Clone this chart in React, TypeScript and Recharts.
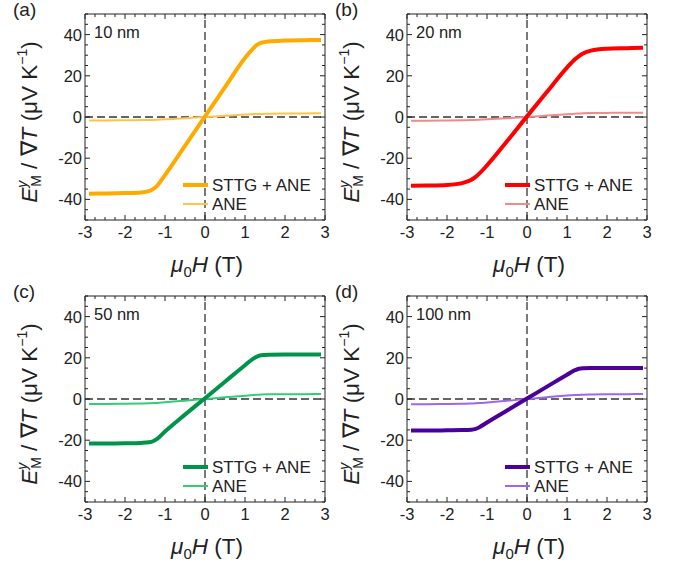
import { LineChart, Line, XAxis, YAxis, ReferenceLine } from "recharts";

// field values (T) shared by every curve
const fieldT = [-2.9, -2.5, -2, -1.6, -1.4, -1.3, -1.2, -1, -0.5, 0, 0.5, 1, 1.2, 1.3, 1.4, 1.6, 2, 2.5, 2.9];

const sttg10 = [-37.2, -37.1, -36.9, -36.6, -36.0, -35.0, -33.4, -28.2, -14.0, 0.3, 14.5, 28.7, 33.2, 35.0, 36.0, 36.7, 37.1, 37.3, 37.4];
const ane10 = [-1.7, -1.7, -1.6, -1.5, -1.45, -1.4, -1.3, -1.1, -0.6, 0, 0.6, 1.2, 1.4, 1.45, 1.5, 1.6, 1.7, 1.75, 1.8];

const sttg20 = [-33.4, -33.3, -33.0, -32.0, -30.6, -29.3, -27.6, -23.5, -11.8, 0.3, 12.2, 24.0, 28.0, 29.6, 30.8, 32.2, 33.1, 33.4, 33.6];
const ane20 = [-1.8, -1.8, -1.7, -1.6, -1.5, -1.45, -1.35, -1.15, -0.6, 0, 0.7, 1.35, 1.6, 1.7, 1.8, 1.9, 2.0, 2.1, 2.1];

const sttg50 = [-21.6, -21.6, -21.5, -21.3, -21.0, -20.5, -19.4, -15.8, -7.6, 0.4, 8.4, 16.4, 19.5, 20.6, 21.2, 21.5, 21.6, 21.6, 21.6];
const ane50 = [-2.4, -2.4, -2.3, -2.2, -2.1, -2.0, -1.9, -1.6, -0.8, 0, 0.8, 1.6, 1.95, 2.05, 2.15, 2.25, 2.3, 2.35, 2.4];

const sttg100 = [-15.3, -15.3, -15.2, -15.1, -14.9, -14.6, -13.8, -11.4, -5.6, 0.2, 6.0, 11.8, 14.0, 14.7, 14.9, 15.0, 15.0, 15.0, 15.0];
const ane100 = [-2.5, -2.5, -2.4, -2.3, -2.2, -2.1, -2.0, -1.7, -0.85, 0, 0.85, 1.65, 1.9, 2.0, 2.1, 2.2, 2.3, 2.35, 2.4];

const xTicks = [-3, -2.75, -2.5, -2.25, -2, -1.75, -1.5, -1.25, -1, -0.75, -0.5, -0.25, 0, 0.25, 0.5, 0.75, 1, 1.25, 1.5, 1.75, 2, 2.25, 2.5, 2.75, 3];
const yTicks = [-50, -45, -40, -35, -30, -25, -20, -15, -10, -5, 0, 5, 10, 15, 20, 25, 30, 35, 40, 45, 50];

const FONT = "'Liberation Sans', Arial, sans-serif";
const INK = "#222";

const W = 330;
const H = 285;
const L = 85; // plot left inside panel
const T = 14; // plot top inside panel
const PW = 240;
const PH = 206;

const isMajorX = (v: number) => Number.isInteger(v);
const isMajorY = (v: number) => v % 20 === 0 && Math.abs(v) < 50;

function tickX(side: "bottom" | "top") {
  return (p: any) => {
    const v = p.payload.value;
    const len = isMajorX(v) ? 5 : 3;
    const dir = side === "bottom" ? -1 : 1;
    return (
      <g>
        <line x1={p.x} x2={p.x} y1={p.y} y2={p.y + dir * len} stroke={INK} strokeWidth={1} />
        {side === "bottom" && isMajorX(v) && (
          <text x={p.x} y={p.y + 18} textAnchor="middle" fontSize={16.5} fontFamily={FONT} fill={INK}>
            {v}
          </text>
        )}
      </g>
    );
  };
}

function tickY(side: "left" | "right") {
  return (p: any) => {
    const v = p.payload.value;
    const len = isMajorY(v) ? 5 : 3;
    const dir = side === "left" ? 1 : -1;
    return (
      <g>
        <line x1={p.x} x2={p.x + dir * len} y1={p.y} y2={p.y} stroke={INK} strokeWidth={1} />
        {side === "left" && isMajorY(v) && (
          <text x={p.x - 3} y={p.y + 6} textAnchor="end" fontSize={16.5} fontFamily={FONT} fill={INK}>
            {v}
          </text>
        )}
      </g>
    );
  };
}

type PanelProps = {
  left: number;
  top: number;
  letter: string;
  thickness: string;
  sttg: number[];
  ane: number[];
  thick: string;
  thin: string;
};

function Panel({ left, top, letter, thickness, sttg, ane, thick, thin }: PanelProps) {
  const rows = fieldT.map((h, i) => ({ h, sttg: sttg[i], ane: ane[i] }));
  return (
    <div style={{ position: "absolute", left, top, width: W, height: H }}>
      <LineChart
        width={W}
        height={H}
        data={rows}
        margin={{ top: T - 1, left: L - 1, right: W - L - PW - 1, bottom: H - T - PH - 1 }}
      >
        <XAxis
          dataKey="h"
          type="number"
          domain={[-3, 3]}
          allowDataOverflow
          ticks={xTicks}
          interval={0}
          height={1}
          tickLine={false}
          tickSize={0}
          tickMargin={0}
          axisLine={{ stroke: INK }}
          tick={tickX("bottom")}
        />
        <XAxis
          xAxisId="top"
          orientation="top"
          dataKey="h"
          type="number"
          domain={[-3, 3]}
          allowDataOverflow
          ticks={xTicks}
          interval={0}
          height={1}
          tickLine={false}
          tickSize={0}
          tickMargin={0}
          axisLine={{ stroke: INK }}
          tick={tickX("top")}
        />
        <YAxis
          type="number"
          domain={[-50, 50]}
          allowDataOverflow
          ticks={yTicks}
          interval={0}
          width={1}
          tickLine={false}
          tickSize={0}
          tickMargin={0}
          axisLine={{ stroke: INK }}
          tick={tickY("left")}
        />
        <YAxis
          yAxisId="right"
          orientation="right"
          type="number"
          domain={[-50, 50]}
          allowDataOverflow
          ticks={yTicks}
          interval={0}
          width={1}
          tickLine={false}
          tickSize={0}
          tickMargin={0}
          axisLine={{ stroke: INK }}
          tick={tickY("right")}
        />
        <ReferenceLine x={0} stroke="#333" strokeWidth={1.3} strokeDasharray="8 4" />
        <ReferenceLine y={0} stroke="#333" strokeWidth={1.3} strokeDasharray="8 4" />
        <Line type="monotone" dataKey="ane" stroke={thin} strokeWidth={2} dot={false} isAnimationActive={false} />
        <Line type="monotone" dataKey="sttg" stroke={thick} strokeWidth={4} dot={false} isAnimationActive={false} />
      </LineChart>
      <svg
        width={W}
        height={H}
        style={{ position: "absolute", left: 0, top: 0, pointerEvents: "none" }}
        fontFamily={FONT}
        fill={INK}
      >
        <text x={13} y={16} fontSize={19}>{letter}</text>
        <text x={L + 9} y={T + 24} fontSize={16.5}>{thickness}</text>
        <line x1={L + 98} x2={L + 123} y1={T + 171} y2={T + 171} stroke={thick} strokeWidth={4} />
        <text x={L + 127} y={T + 177} fontSize={17}>STTG + ANE</text>
        <line x1={L + 98} x2={L + 123} y1={T + 190} y2={T + 190} stroke={thin} strokeWidth={2} />
        <text x={L + 127} y={T + 196} fontSize={17}>ANE</text>
        <text x={L + PW / 2 + 2} y={272} textAnchor="middle" fontSize={22.5}>
          <tspan fontStyle="italic">μ</tspan>
          <tspan fontSize={15} dy={5}>0</tspan>
          <tspan fontStyle="italic" dy={-5}>H</tspan>
          <tspan> (T)</tspan>
        </text>
        <text transform={`translate(37, ${T + PH / 2 + 5}) rotate(-90)`} textAnchor="middle" fontSize={22.5}>
          <tspan fontStyle="italic">E</tspan>
          <tspan fontSize={14} fontStyle="italic" dy={-10}>y</tspan>
          <tspan fontSize={14} dx={-6} dy={14}>M</tspan>
          <tspan dy={-4}> / ∇</tspan>
          <tspan fontStyle="italic">T</tspan>
          <tspan> (μV K</tspan>
          <tspan fontSize={14} dy={-10}>−1</tspan>
          <tspan dy={10}>)</tspan>
        </text>
      </svg>
    </div>
  );
}

export default function App() {
  return (
    <div style={{ position: "absolute", left: 0, top: 0, width: 675, height: 570, background: "#fff" }}>
      <Panel left={0} top={0} letter="(a)" thickness="10 nm" sttg={sttg10} ane={ane10} thick="#FFAA00" thin="#FFC24D" />
      <Panel left={322} top={0} letter="(b)" thickness="20 nm" sttg={sttg20} ane={ane20} thick="#FF0000" thin="#F28A8A" />
      <Panel left={0} top={282} letter="(c)" thickness="50 nm" sttg={sttg50} ane={ane50} thick="#00944A" thin="#33CC77" />
      <Panel left={322} top={282} letter="(d)" thickness="100 nm" sttg={sttg100} ane={ane100} thick="#4A0099" thin="#A066EE" />
    </div>
  );
}
